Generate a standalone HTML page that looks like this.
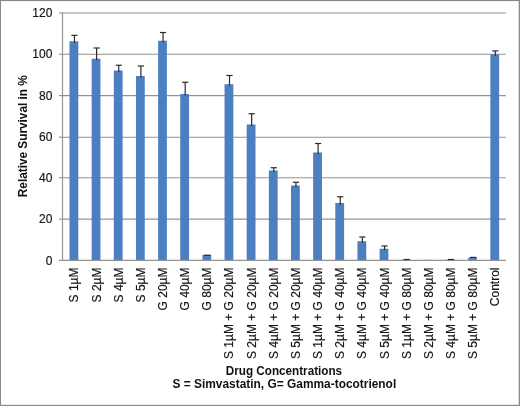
<!DOCTYPE html>
<html><head><meta charset="utf-8"><title>Chart</title>
<style>
html,body{margin:0;padding:0;background:#fff;}
body{width:520px;height:406px;overflow:hidden;}
svg{display:block;}
text{font-family:"Liberation Sans",Arial,sans-serif;font-size:12px;fill:#161616;stroke:#161616;stroke-width:0.18px;}
.b{font-weight:bold;fill:#111;stroke:none;}
</style></head><body>
<svg width="520" height="406" viewBox="0 0 520 406">
<rect x="0" y="0" width="520" height="406" fill="#fff"/>
<rect x="0" y="0" width="520" height="1.1" fill="#8a8a8a"/>
<rect x="0" y="0" width="1.0" height="406" fill="#8a8a8a"/>
<rect x="518.7" y="0" width="1.3" height="406" fill="#8a8a8a"/>
<rect x="0" y="404.8" width="520" height="1.2" fill="#8a8a8a"/>
<line x1="62.5" y1="219.10" x2="505.8" y2="219.10" stroke="#929292" stroke-width="1.15"/>
<line x1="62.5" y1="177.70" x2="505.8" y2="177.70" stroke="#929292" stroke-width="1.15"/>
<line x1="62.5" y1="137.20" x2="505.8" y2="137.20" stroke="#929292" stroke-width="1.15"/>
<line x1="62.5" y1="95.60" x2="505.8" y2="95.60" stroke="#929292" stroke-width="1.15"/>
<line x1="62.5" y1="54.20" x2="505.8" y2="54.20" stroke="#929292" stroke-width="1.15"/>
<line x1="62.5" y1="13.00" x2="505.8" y2="13.00" stroke="#929292" stroke-width="1.15"/>
<rect x="69.50" y="41.30" width="8.8" height="219.10" fill="#4b7fbf"/>
<rect x="91.65" y="58.75" width="8.8" height="201.65" fill="#4b7fbf"/>
<rect x="113.80" y="70.50" width="8.8" height="189.90" fill="#4b7fbf"/>
<rect x="135.95" y="76.00" width="8.8" height="184.40" fill="#4b7fbf"/>
<rect x="158.10" y="40.75" width="8.8" height="219.65" fill="#4b7fbf"/>
<rect x="180.25" y="94.00" width="8.8" height="166.40" fill="#4b7fbf"/>
<rect x="202.40" y="254.80" width="8.8" height="5.60" fill="#4b7fbf"/>
<rect x="224.55" y="84.25" width="8.8" height="176.15" fill="#4b7fbf"/>
<rect x="246.70" y="124.50" width="8.8" height="135.90" fill="#4b7fbf"/>
<rect x="268.85" y="170.50" width="8.8" height="89.90" fill="#4b7fbf"/>
<rect x="291.00" y="185.50" width="8.8" height="74.90" fill="#4b7fbf"/>
<rect x="313.15" y="152.50" width="8.8" height="107.90" fill="#4b7fbf"/>
<rect x="335.30" y="203.00" width="8.8" height="57.40" fill="#4b7fbf"/>
<rect x="357.45" y="241.25" width="8.8" height="19.15" fill="#4b7fbf"/>
<rect x="379.60" y="248.75" width="8.8" height="11.65" fill="#4b7fbf"/>
<rect x="401.75" y="259.70" width="8.8" height="0.70" fill="#4b7fbf"/>
<rect x="423.90" y="259.90" width="8.8" height="0.50" fill="#4b7fbf"/>
<rect x="446.05" y="259.70" width="8.8" height="0.70" fill="#4b7fbf"/>
<rect x="468.20" y="257.60" width="8.8" height="2.80" fill="#4b7fbf"/>
<rect x="490.35" y="54.30" width="8.8" height="206.10" fill="#4b7fbf"/>
<line x1="59.0" y1="260.4" x2="505.8" y2="260.4" stroke="#929292" stroke-width="1.15"/>
<line x1="62.5" y1="12.40" x2="62.5" y2="260.4" stroke="#929292" stroke-width="1.15"/>
<line x1="59.0" y1="219.10" x2="62.5" y2="219.10" stroke="#929292" stroke-width="1.15"/>
<line x1="59.0" y1="177.70" x2="62.5" y2="177.70" stroke="#929292" stroke-width="1.15"/>
<line x1="59.0" y1="137.20" x2="62.5" y2="137.20" stroke="#929292" stroke-width="1.15"/>
<line x1="59.0" y1="95.60" x2="62.5" y2="95.60" stroke="#929292" stroke-width="1.15"/>
<line x1="59.0" y1="54.20" x2="62.5" y2="54.20" stroke="#929292" stroke-width="1.15"/>
<line x1="59.0" y1="13.00" x2="62.5" y2="13.00" stroke="#929292" stroke-width="1.15"/>
<line x1="74.45" y1="35.30" x2="74.45" y2="42.80" stroke="#2b2b2b" stroke-width="1.2"/>
<line x1="71.35" y1="35.30" x2="77.55" y2="35.30" stroke="#2b2b2b" stroke-width="1.2"/>
<line x1="96.60" y1="48.00" x2="96.60" y2="60.25" stroke="#2b2b2b" stroke-width="1.2"/>
<line x1="93.50" y1="48.00" x2="99.70" y2="48.00" stroke="#2b2b2b" stroke-width="1.2"/>
<line x1="118.75" y1="65.25" x2="118.75" y2="72.00" stroke="#2b2b2b" stroke-width="1.2"/>
<line x1="115.65" y1="65.25" x2="121.85" y2="65.25" stroke="#2b2b2b" stroke-width="1.2"/>
<line x1="140.90" y1="66.00" x2="140.90" y2="77.50" stroke="#2b2b2b" stroke-width="1.2"/>
<line x1="137.80" y1="66.00" x2="144.00" y2="66.00" stroke="#2b2b2b" stroke-width="1.2"/>
<line x1="163.05" y1="32.50" x2="163.05" y2="42.25" stroke="#2b2b2b" stroke-width="1.2"/>
<line x1="159.95" y1="32.50" x2="166.15" y2="32.50" stroke="#2b2b2b" stroke-width="1.2"/>
<line x1="185.20" y1="82.25" x2="185.20" y2="95.50" stroke="#2b2b2b" stroke-width="1.2"/>
<line x1="182.10" y1="82.25" x2="188.30" y2="82.25" stroke="#2b2b2b" stroke-width="1.2"/>
<line x1="204.25" y1="255.30" x2="210.45" y2="255.30" stroke="#2b2b2b" stroke-width="1.2"/>
<line x1="229.50" y1="75.50" x2="229.50" y2="85.75" stroke="#2b2b2b" stroke-width="1.2"/>
<line x1="226.40" y1="75.50" x2="232.60" y2="75.50" stroke="#2b2b2b" stroke-width="1.2"/>
<line x1="251.65" y1="113.75" x2="251.65" y2="126.00" stroke="#2b2b2b" stroke-width="1.2"/>
<line x1="248.55" y1="113.75" x2="254.75" y2="113.75" stroke="#2b2b2b" stroke-width="1.2"/>
<line x1="273.80" y1="167.75" x2="273.80" y2="172.00" stroke="#2b2b2b" stroke-width="1.2"/>
<line x1="270.70" y1="167.75" x2="276.90" y2="167.75" stroke="#2b2b2b" stroke-width="1.2"/>
<line x1="295.95" y1="182.25" x2="295.95" y2="187.00" stroke="#2b2b2b" stroke-width="1.2"/>
<line x1="292.85" y1="182.25" x2="299.05" y2="182.25" stroke="#2b2b2b" stroke-width="1.2"/>
<line x1="318.10" y1="143.50" x2="318.10" y2="154.00" stroke="#2b2b2b" stroke-width="1.2"/>
<line x1="315.00" y1="143.50" x2="321.20" y2="143.50" stroke="#2b2b2b" stroke-width="1.2"/>
<line x1="340.25" y1="196.75" x2="340.25" y2="204.50" stroke="#2b2b2b" stroke-width="1.2"/>
<line x1="337.15" y1="196.75" x2="343.35" y2="196.75" stroke="#2b2b2b" stroke-width="1.2"/>
<line x1="362.40" y1="237.00" x2="362.40" y2="242.75" stroke="#2b2b2b" stroke-width="1.2"/>
<line x1="359.30" y1="237.00" x2="365.50" y2="237.00" stroke="#2b2b2b" stroke-width="1.2"/>
<line x1="384.55" y1="246.00" x2="384.55" y2="250.25" stroke="#2b2b2b" stroke-width="1.2"/>
<line x1="381.45" y1="246.00" x2="387.65" y2="246.00" stroke="#2b2b2b" stroke-width="1.2"/>
<line x1="403.60" y1="259.50" x2="409.80" y2="259.50" stroke="#2b2b2b" stroke-width="1.2"/>
<line x1="447.90" y1="259.50" x2="454.10" y2="259.50" stroke="#2b2b2b" stroke-width="1.2"/>
<line x1="470.05" y1="257.40" x2="476.25" y2="257.40" stroke="#2b2b2b" stroke-width="1.2"/>
<line x1="495.30" y1="50.90" x2="495.30" y2="55.80" stroke="#2b2b2b" stroke-width="1.2"/>
<line x1="492.20" y1="50.90" x2="498.40" y2="50.90" stroke="#2b2b2b" stroke-width="1.2"/>
<text x="52.4" y="264.60" text-anchor="end">0</text>
<text x="52.4" y="223.33" text-anchor="end">20</text>
<text x="52.4" y="182.06" text-anchor="end">40</text>
<text x="52.4" y="140.79" text-anchor="end">60</text>
<text x="52.4" y="99.52" text-anchor="end">80</text>
<text x="52.4" y="58.25" text-anchor="end">100</text>
<text x="52.4" y="16.98" text-anchor="end">120</text>
<text class="b" transform="translate(26.5,136.2) rotate(-90)" text-anchor="middle" textLength="122" lengthAdjust="spacingAndGlyphs">Relative Survival in %</text>
<text transform="translate(78.40,267.5) rotate(-90)" text-anchor="end">S 1µM</text>
<text transform="translate(100.55,267.5) rotate(-90)" text-anchor="end">S 2µM</text>
<text transform="translate(122.70,267.5) rotate(-90)" text-anchor="end">S 4µM</text>
<text transform="translate(144.85,267.5) rotate(-90)" text-anchor="end">S 5µM</text>
<text transform="translate(167.00,267.5) rotate(-90)" text-anchor="end">G 20µM</text>
<text transform="translate(189.15,267.5) rotate(-90)" text-anchor="end">G 40µM</text>
<text transform="translate(211.30,267.5) rotate(-90)" text-anchor="end">G 80µM</text>
<text transform="translate(233.45,267.5) rotate(-90)" text-anchor="end">S 1µM + G 20µM</text>
<text transform="translate(255.60,267.5) rotate(-90)" text-anchor="end">S 2µM + G 20µM</text>
<text transform="translate(277.75,267.5) rotate(-90)" text-anchor="end">S 4µM + G 20µM</text>
<text transform="translate(299.90,267.5) rotate(-90)" text-anchor="end">S 5µM + G 20µM</text>
<text transform="translate(322.05,267.5) rotate(-90)" text-anchor="end">S 1µM + G 40µM</text>
<text transform="translate(344.20,267.5) rotate(-90)" text-anchor="end">S 2µM + G 40µM</text>
<text transform="translate(366.35,267.5) rotate(-90)" text-anchor="end">S 4µM + G 40µM</text>
<text transform="translate(388.50,267.5) rotate(-90)" text-anchor="end">S 5µM + G 40µM</text>
<text transform="translate(410.65,267.5) rotate(-90)" text-anchor="end">S 1µM + G 80µM</text>
<text transform="translate(432.80,267.5) rotate(-90)" text-anchor="end">S 2µM + G 80µM</text>
<text transform="translate(454.95,267.5) rotate(-90)" text-anchor="end">S 4µM + G 80µM</text>
<text transform="translate(477.10,267.5) rotate(-90)" text-anchor="end">S 5µM + G 80µM</text>
<text transform="translate(499.25,267.5) rotate(-90)" text-anchor="end">Control</text>
<text class="b" x="225.8" y="374.5" textLength="116.3" lengthAdjust="spacingAndGlyphs">Drug Concentrations</text>
<text class="b" x="172.5" y="388.2" textLength="223.7" lengthAdjust="spacingAndGlyphs">S = Simvastatin, G= Gamma-tocotrienol</text>
</svg>
</body></html>
